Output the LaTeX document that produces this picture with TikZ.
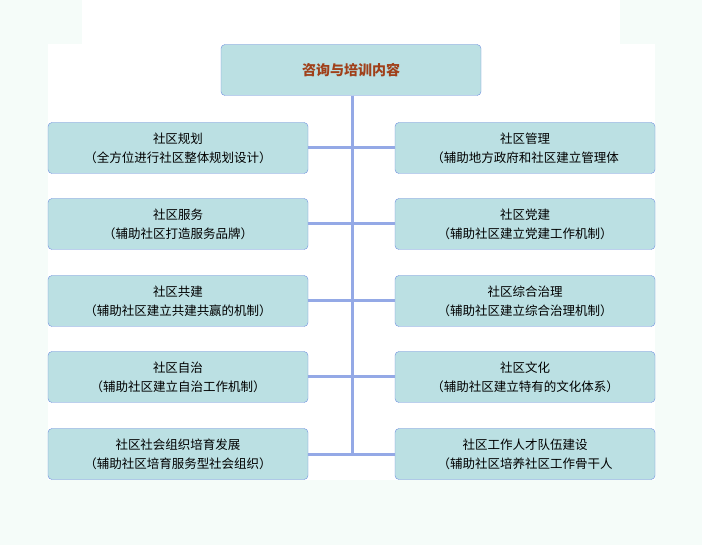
\documentclass[tikz,border=0pt]{standalone}
\usepackage{fontspec}
\setmainfont{Noto Sans CJK SC}
\definecolor{boxfill}{HTML}{BBE0E3}
\definecolor{boxline}{HTML}{6F8FE0}
\definecolor{linkline}{HTML}{94A9E6}
\definecolor{pagebg}{HTML}{F5FCF9}
\definecolor{titlered}{HTML}{A0401A}
\tikzset{
  item/.style={draw=boxline,fill=boxfill,rounded corners=4pt,minimum width=260pt,
    minimum height=51pt,align=center,font=\fontsize{12.5pt}{19pt}\selectfont,inner sep=0pt},
  link/.style={draw=linkline,line width=3pt}
}
\begin{document}
\begin{tikzpicture}[x=1pt,y=-1pt]
	%background
	\fill[pagebg] (0,0) rectangle (702,545);
	\fill[white] (82,0) rectangle (620,44);
	\fill[white] (48,44) rectangle (655,480);
	\useasboundingbox (0,0) rectangle (702,545);
	%title
	\node[item,font=\fontsize{14pt}{17pt}\selectfont\bfseries,text=titlered] (top) at (351,70) {咨询与培训内容};
	%items
	\node[item] (l1) at (178,148) {社区规划\\（全方位进行社区整体规划设计）};
	\node[item] (l2) at (178,224) {社区服务\\（辅助社区打造服务品牌）};
	\node[item] (l3) at (178,301) {社区共建\\（辅助社区建立共建共赢的机制）};
	\node[item] (l4) at (178,377) {社区自治\\（辅助社区建立自治工作机制）};
	\node[item] (l5) at (178,454) {社区社会组织培育发展\\（辅助社区培育服务型社会组织）};
	\node[item] (r1) at (525,148) {社区管理\\（辅助地方政府和社区建立管理体};
	\node[item] (r2) at (525,224) {社区党建\\（辅助社区建立党建工作机制）};
	\node[item] (r3) at (525,301) {社区综合治理\\（辅助社区建立综合治理机制）};
	\node[item] (r4) at (525,377) {社区文化\\（辅助社区建立特有的文化体系）};
	\node[item] (r5) at (525,454) {社区工作人才队伍建设\\（辅助社区培养社区工作骨干人};
	%links
	\coordinate (spine) at (352,454);
	\draw[link] (top.south -| spine) -- (spine);
	\foreach \i in {1,...,5}
	\draw[link] (l\i.east) -- (r\i.west);
\end{tikzpicture}
\end{document}
